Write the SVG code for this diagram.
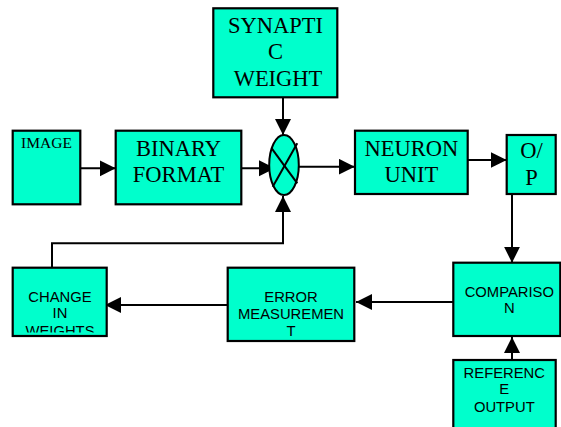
<svg xmlns="http://www.w3.org/2000/svg" width="561" height="427" viewBox="0 0 561 427">
<defs>
<style>
.box{fill:#00FFCC;stroke:#000;stroke-width:2.2}
.serif{font-family:"Liberation Serif","Times New Roman",serif;font-size:22.5px;fill:#000;text-anchor:middle}
.sans{font-family:"Liberation Sans",Arial,sans-serif;font-size:14.8px;fill:#000;text-anchor:middle}
.conn{fill:none;stroke:#000;stroke-width:2}
</style>
<marker id="ah" markerUnits="userSpaceOnUse" markerWidth="17" markerHeight="17" refX="16" refY="8" orient="auto">
<path d="M0,0 L16,8 L0,16 z" fill="#000"/>
</marker>
<clipPath id="cw"><rect x="13" y="268" width="93" height="64.5"/></clipPath>
</defs>
<rect width="561" height="427" fill="#fff"/>

<g id="connectors">
<line class="conn" x1="80.3" y1="168.3" x2="115.7" y2="168.3" marker-end="url(#ah)"/>
<line class="conn" x1="241.3" y1="168.3" x2="275" y2="168.3" marker-end="url(#ah)"/>
<line class="conn" x1="283" y1="97.3" x2="283" y2="135" marker-end="url(#ah)"/>
<line class="conn" x1="298.7" y1="166.7" x2="354.7" y2="166.7" marker-end="url(#ah)"/>
<line class="conn" x1="467.7" y1="160" x2="506.7" y2="160" marker-end="url(#ah)"/>
<line class="conn" x1="512" y1="194" x2="512" y2="262.7" marker-end="url(#ah)"/>
<line class="conn" x1="512" y1="360" x2="512" y2="337" marker-end="url(#ah)"/>
<line class="conn" x1="453.3" y1="302" x2="356" y2="302" marker-end="url(#ah)"/>
<line class="conn" x1="228" y1="305" x2="105" y2="305" marker-end="url(#ah)"/>
<polyline class="conn" points="52,267.7 52,243.3 283,243.3 283,196" marker-end="url(#ah)"/>
</g>

<g id="image">
<rect class="box" x="12.7" y="130.7" width="67.6" height="73.6"/>
<text class="serif" x="46.5" y="148.3" style="font-size:15.5px">IMAGE</text>
</g>

<g id="binary">
<rect class="box" x="115.7" y="130.7" width="125.6" height="73.6"/>
<text class="serif" x="178.5" y="155.7">BINARY</text>
<text class="serif" x="178.5" y="181.7">FORMAT</text>
</g>

<g id="synaptic">
<rect class="box" x="213.3" y="8.3" width="124" height="89"/>
<text class="serif" x="275.5" y="33.3">SYNAPTI</text>
<text class="serif" x="275.5" y="59.3">C</text>
<text class="serif" x="278" y="86">WEIGHT</text>
</g>

<g id="multiplier">
<ellipse cx="284" cy="165" rx="14.8" ry="30" fill="#00FFCC" stroke="#000" stroke-width="2"/>
<line x1="271.7" y1="148.3" x2="297.3" y2="183.3" stroke="#000" stroke-width="2"/>
<line x1="297.3" y1="143.3" x2="272.7" y2="186.7" stroke="#000" stroke-width="2"/>
</g>

<g id="neuron">
<rect class="box" x="355" y="130.7" width="112.7" height="63.3"/>
<text class="serif" x="411.3" y="155.7">NEURON</text>
<text class="serif" x="411.3" y="181.7">UNIT</text>
</g>

<g id="op">
<rect class="box" x="506.7" y="135" width="49" height="59"/>
<text class="serif" x="531.5" y="158.3">O/</text>
<text class="serif" x="531.5" y="185">P</text>
</g>

<g id="comparison">
<rect class="box" x="453.3" y="262.7" width="107" height="73.3"/>
<text class="sans" x="509.3" y="296.7">COMPARISO</text>
<text class="sans" x="509.3" y="313.3">N</text>
</g>

<g id="reference">
<rect class="box" x="453.3" y="360" width="102.4" height="70"/>
<text class="sans" x="504.3" y="377.7">REFERENC</text>
<text class="sans" x="504.3" y="394.3">E</text>
<text class="sans" x="504.3" y="411.7">OUTPUT</text>
</g>

<g id="error">
<rect class="box" x="227.7" y="267.7" width="126.6" height="73.3"/>
<text class="sans" x="291" y="301.7">ERROR</text>
<text class="sans" x="291" y="319">MEASUREMEN</text>
<text class="sans" x="291" y="336">T</text>
</g>

<g id="change">
<rect class="box" x="12.7" y="267.7" width="94" height="68.3"/>
<g clip-path="url(#cw)">
<text class="sans" x="60" y="301.7">CHANGE</text>
<text class="sans" x="60" y="318.3">IN</text>
<text class="sans" x="60" y="335.5">WEIGHTS</text>
</g>
</g>
</svg>
